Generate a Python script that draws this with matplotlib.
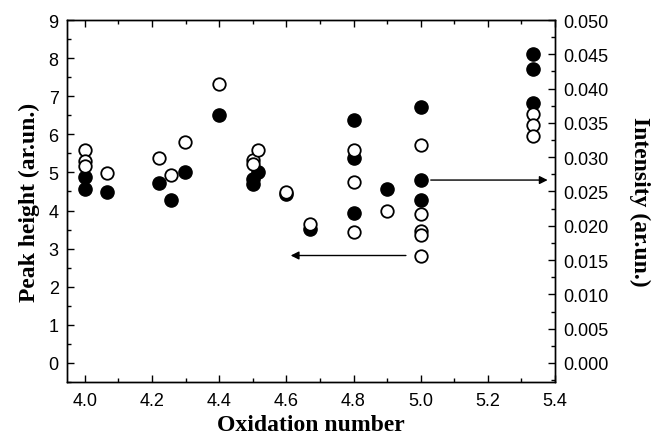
import matplotlib
matplotlib.use("Agg")
import matplotlib.pyplot as plt
from matplotlib.ticker import MultipleLocator, FormatStrFormatter

# Open circles: peak height (left axis)
open_x = [4.0, 4.0, 4.0, 4.066, 4.221, 4.257, 4.299, 4.401, 4.5, 4.5, 4.515,
          4.6, 4.669, 4.8, 4.8, 4.8, 4.9, 5.0, 5.0, 5.0, 5.0, 5.0,
          5.333, 5.333, 5.333]
open_y = [5.58, 5.29, 5.17, 4.99, 5.39, 4.92, 5.81, 7.31, 5.33, 5.23, 5.58,
          4.48, 3.65, 5.58, 4.76, 3.43, 4.00, 5.71, 3.91, 3.45, 3.36, 2.82,
          6.54, 6.25, 5.96]

# Filled circles: intensity (right axis)
filled_x = [4.0, 4.0, 4.066, 4.221, 4.257, 4.299, 4.401, 4.5, 4.5, 4.515,
            4.6, 4.669, 4.8, 4.8, 4.8, 4.9, 5.0, 5.0, 5.0,
            5.333, 5.333, 5.333]
filled_y = [0.0271, 0.0253, 0.0249, 0.0262, 0.0237, 0.0279, 0.0362, 0.0268, 0.0261, 0.0279,
            0.0246, 0.0196, 0.0354, 0.0299, 0.0219, 0.0254, 0.0373, 0.0267, 0.0237,
            0.0451, 0.0428, 0.0379]

x_ticks = [4.0, 4.2, 4.4, 4.6, 4.8, 5.0, 5.2, 5.4]
left_ticks = list(range(0, 10))
right_ticks = [0.000, 0.005, 0.010, 0.015, 0.020, 0.025, 0.030, 0.035, 0.040, 0.045, 0.050]

fig = plt.figure(figsize=(6.53, 4.35), dpi=100)
ax = fig.add_axes([0.1026, 0.1195, 0.7474, 0.8322])
ax2 = ax.twinx()
ax.set_zorder(ax2.get_zorder() + 1)
ax.patch.set_visible(False)

tick_font = "Liberation Sans"
label_font = "Liberation Serif"

ax2.plot(filled_x, filled_y, linestyle="none", marker="o", markersize=9.5,
         markerfacecolor="black", markeredgecolor="black", markeredgewidth=1.0)
ax.plot(open_x, open_y, linestyle="none", marker="o", markersize=9,
        markerfacecolor="white", markeredgecolor="black", markeredgewidth=1.3)

ax.set_xlim(3.947, 5.4)
ax.set_ylim(-0.5, 9)
ax2.set_ylim(-0.5 * 0.05 / 9, 0.05)

ax.set_xticks(x_ticks)
ax.xaxis.set_minor_locator(MultipleLocator(0.1))
ax.set_yticks(left_ticks)
ax.yaxis.set_minor_locator(MultipleLocator(0.5))
ax2.set_yticks(right_ticks)
ax2.yaxis.set_minor_locator(MultipleLocator(0.0025))
ax.xaxis.set_major_formatter(FormatStrFormatter("%.1f"))
ax2.yaxis.set_major_formatter(FormatStrFormatter("%.3f"))

ax.tick_params(axis="x", which="both", direction="in", top=True, bottom=True, pad=7)
ax.tick_params(axis="y", which="both", direction="in", left=True, right=False, pad=6)
ax2.tick_params(axis="y", which="both", direction="in", right=True, pad=6)
for a in (ax, ax2):
    a.tick_params(which="major", length=5, width=1.0)
    a.tick_params(which="minor", length=3, width=1.0)
    for lab in a.get_xticklabels() + a.get_yticklabels():
        lab.set_fontfamily(tick_font)
        lab.set_fontsize(13)
    for s in a.spines.values():
        s.set_linewidth(1.0)

ax.set_xlabel("Oxidation number", fontfamily=label_font, fontweight="bold",
              fontsize=17, labelpad=4)
ax.set_ylabel("Peak height (ar.un.)", fontfamily=label_font, fontweight="bold",
              fontsize=17, labelpad=6)
ax2.set_ylabel("Intensity (ar.un.)", fontfamily=label_font, fontweight="bold",
               fontsize=17, rotation=270, labelpad=30)

arrow_style = dict(arrowstyle="-|>", color="black", lw=1.0,
                   mutation_scale=12, shrinkA=0, shrinkB=0)
ax.annotate("", xy=(4.613, 2.82), xytext=(4.956, 2.82), arrowprops=arrow_style)
ax.annotate("", xy=(5.378, 4.80), xytext=(5.03, 4.80), arrowprops=arrow_style)

fig.savefig("out.png", dpi=100)
